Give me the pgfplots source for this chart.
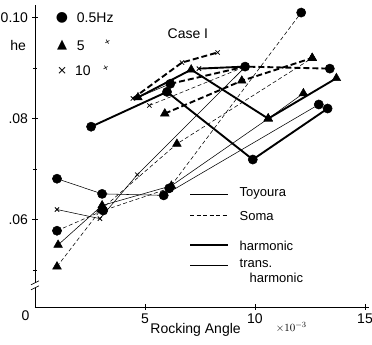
\documentclass[border=0pt]{standalone}
\usepackage{pgfplots}
\pgfplotsset{compat=1.18}
\usepackage{fontspec}
\setmainfont{Liberation Sans}
\newfontfamily\dejavu{DejaVu Sans}
\tikzset{
 thk/.style={black, line width=1.9pt},
 thn/.style={black, line width=0.55pt},
 dsh/.style={dash pattern=on 6pt off 3pt},
 dsn/.style={dash pattern=on 4pt off 2.5pt},
 mc/.style={mark=*, mark size=4.6pt, mark options={solid, fill=black, line width=0.5pt}},
 mt/.style={mark=triangle*, mark size=5pt, mark options={solid, fill=black, line width=0.5pt}},
 mx/.style={mark=x, mark size=3pt, mark options={solid, line width=0.8pt}},
}
\begin{document}
\fontsize{13}{15}\selectfont
\begin{tikzpicture}[x=1pt,y=1pt]
\useasboundingbox (-35,-38) rectangle (337,307);
\begin{axis}[
  at={(0,0)}, anchor=south west,
  scale only axis, width=334.4pt, height=302pt,
  xmin=0, xmax=15.2, ymin=0.0427, ymax=0.1025,
  axis x line=bottom, axis y line=left, axis line style={-, line width=0.8pt},
  xtick={5,10,15}, xticklabels={5,10,15},
  ytick={0.06,0.08,0.10}, yticklabels={.06,.08,0.10},
  minor ytick={0.05,0.07,0.09},
  tick align=center, major tick length=5pt, minor tick length=4pt,
  tick style={black, line width=0.7pt},
  scaled y ticks=false, scaled x ticks=false,
  clip=false,
  every tick label/.append style={font=\fontsize{14}{16}\selectfont},
]
% Toyoura harmonic / transient, Soma harmonic / transient
\addplot[thk, mc] coordinates {(2.55,0.0784) (6.0,0.0853) (9.9,0.0719) (13.3,0.0820)};
\addplot[thn, mc] coordinates {(1.0,0.0681) (3.05,0.0651) (5.85,0.0648) (12.9,0.0828)};
\addplot[thk, dsh, mc] coordinates {(6.15,0.0869) (9.55,0.0903) (13.4,0.0899)};
\addplot[thn, dsn, mc] coordinates {(1.0,0.0578) (3.1,0.0618) (6.1,0.0662) (12.1,0.1010)};
\addplot[thk, mt] coordinates {(4.68,0.0842) (7.1,0.0897) (10.6,0.0800) (13.7,0.0880)};
\addplot[thn, mt] coordinates {(1.05,0.0550) (3.05,0.0628) (6.2,0.0667) (10.6,0.0800) (12.2,0.0850)};
\addplot[thk, dsh, mt] coordinates {(5.9,0.0810) (9.4,0.0875) (12.6,0.0920)};
\addplot[thn, dsn, mt] coordinates {(1.0,0.0507) (3.0,0.0620) (6.45,0.0750) (12.6,0.0920)};
\addplot[thn, mx] coordinates {(1.0,0.0620) (2.95,0.0602) (4.65,0.0689) (9.5,0.0900)};
\addplot[thk, dsh, mx] coordinates {(4.45,0.0840) (6.68,0.0911) (8.3,0.0931)};
\addplot[thn, dsn, mx] coordinates {(5.2,0.0826) (9.55,0.0903)};
\addplot[thk, mx] coordinates {(7.45,0.0899) (9.55,0.0903)};
\addplot[thn, mark=none] coordinates {(4.68,0.0842) (6.15,0.0869)};

% axis break
\path (axis cs:0,0.0470) coordinate (brk);
\fill[white] ([xshift=-5pt,yshift=-2.5pt]brk) rectangle ([xshift=5pt,yshift=2.5pt]brk);
\draw[line width=0.7pt] ([xshift=-4pt,yshift=-4.5pt]brk) -- ([xshift=4pt,yshift=-0.5pt]brk);
\draw[line width=0.7pt] ([xshift=-4pt,yshift=0.5pt]brk) -- ([xshift=4pt,yshift=4.5pt]brk);
\node[anchor=east, font=\fontsize{14}{16}\selectfont] at (axis cs:-0.05,0.0410) {0};

% y label
\node[font=\fontsize{14}{16}\selectfont] at (axis cs:-0.77,0.0945) {he};

% frequency legend
\node[font=\dejavu\fontsize{14}{15}\selectfont] at (axis cs:1.23,0.1000) {●};
\node[anchor=west, font=\fontsize{14}{16}\selectfont] at (axis cs:1.70,0.1000) {0.5Hz};
\node[font=\dejavu\fontsize{13}{14}\selectfont] at (axis cs:1.23,0.0945) {▲};
\node[anchor=west, font=\fontsize{14}{16}\selectfont] at (axis cs:1.70,0.0945) {5};
\node[rotate=30, font=\fontsize{10}{11}\selectfont] at (axis cs:3.3,0.0950) {+};
\node[font=\dejavu\fontsize{12}{14}\selectfont] at (axis cs:1.23,0.0895) {×};
\node[anchor=west, font=\fontsize{14}{16}\selectfont] at (axis cs:1.62,0.0895) {10};
\node[rotate=30, font=\fontsize{10}{11}\selectfont] at (axis cs:3.23,0.0899) {+};
\node[font=\fontsize{14}{16}\selectfont] at (axis cs:6.95,0.0968) {Case I};

% line-style legend
\draw[thn] (axis cs:7.05,0.0651) -- (axis cs:8.77,0.0651);
\node[anchor=west] at (axis cs:9.1,0.0651) {Toyoura};
\draw[thn, dsn] (axis cs:7.05,0.0608) -- (axis cs:8.77,0.0608);
\node[anchor=west] at (axis cs:9.1,0.0608) {Soma};
\draw[thk] (axis cs:7.05,0.0549) -- (axis cs:8.77,0.0549);
\node[anchor=west] at (axis cs:9.1,0.0549) {harmonic};
\draw[thn] (axis cs:7.05,0.0509) -- (axis cs:8.77,0.0509);
\node[anchor=west] at (axis cs:9.1,0.0514) {trans.};
\node[anchor=west] at (axis cs:9.55,0.0484) {harmonic};

% x label
\node[font=\fontsize{14}{16}\selectfont] at (axis cs:7.3,0.0381) {Rocking Angle};
\node[font=\fontsize{11}{13}\selectfont] at (axis cs:11.65,0.0387) {$\times10^{-3}$};
\end{axis}
\end{tikzpicture}
\end{document}
